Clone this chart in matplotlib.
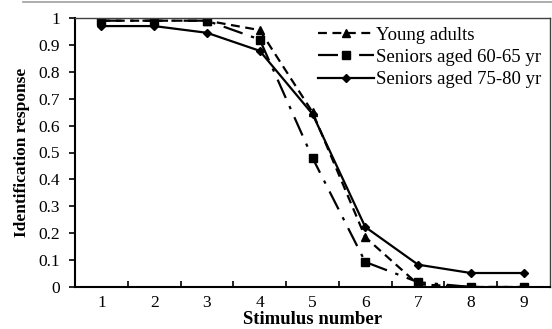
import matplotlib
matplotlib.use("Agg")
import matplotlib.pyplot as plt
from matplotlib.lines import Line2D

plt.rcParams['font.family'] = ['Liberation Serif', 'DejaVu Serif']

stimulus = [1, 2, 3, 4, 5, 6, 7, 8, 9]
young = [0.99, 0.99, 0.99, 0.955, 0.65, 0.185, 0.01, 0.0, 0.0]
seniors_60 = [0.99, 0.99, 0.99, 0.92, 0.48, 0.093, 0.018, 0.0, 0.0]
seniors_75 = [0.97, 0.97, 0.945, 0.878, 0.643, 0.223, 0.083, 0.052, 0.052]

fig = plt.figure(figsize=(5.52, 3.29), dpi=100)
ax = fig.add_axes([75/552, 42/329, 475/552, 269/329])

ax.plot(stimulus, young, color='black', ls=(0, (4, 2.5)), lw=1.6, marker='^', ms=6,
        label='Young adults')
ax.plot(stimulus, seniors_60, color='black', ls=(0, (9, 4, 1.5, 4)), lw=1.6, marker='s', ms=6,
        label='Seniors aged 60-65 yr')
ax.plot(stimulus, seniors_75, color='black', ls='-', lw=1.6, marker='D', ms=4.5,
        label='Seniors aged 75-80 yr')

ax.set_xlim(0.5, 9.5)
ax.set_ylim(0, 1)
ax.set_xticks(stimulus)
ax.set_xticks([i + 0.5 for i in range(9)], minor=True)
ax.tick_params(axis='x', which='major', length=0, labelsize=12.5, pad=6)
ax.tick_params(axis='x', which='minor', direction='in', length=4, width=1.2)
ax.set_yticks([i / 10 for i in range(11)])
ax.set_yticklabels(['0'] + ['%.1f' % (i / 10) for i in range(1, 10)] + ['1'])
ax.tick_params(axis='y', direction='out', length=4, width=1.2, labelsize=12.5, pad=7)

for s in ['left', 'bottom']:
    ax.spines[s].set_linewidth(1.5)
    ax.spines[s].set_color('black')
for s in ['top', 'right']:
    ax.spines[s].set_linewidth(1.0)
    ax.spines[s].set_color('#404040')

ax.set_xlabel('Stimulus number', fontsize=13.5, fontweight='bold', labelpad=0)
ax.set_ylabel('Identification response', fontsize=12.5, fontweight='bold', labelpad=6)

ax.legend(loc='upper right', frameon=False, fontsize=13.5, handlelength=3.0,
          handletextpad=0.1, labelspacing=0.28, borderaxespad=0.05,
          bbox_to_anchor=(1.0, 1.0))

fig.add_artist(Line2D([23/552, 1], [1 - 1.5/329, 1 - 1.5/329], color='#a0a0a0', lw=1.2))

fig.savefig('out.png', dpi=100)
